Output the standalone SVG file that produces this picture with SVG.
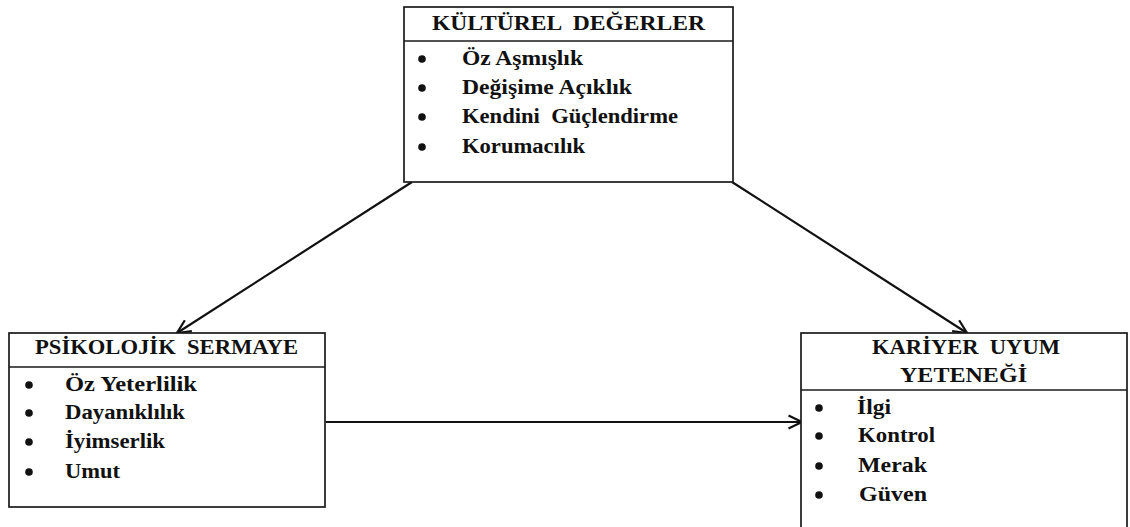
<svg xmlns="http://www.w3.org/2000/svg" width="1130" height="527" viewBox="0 0 1130 527">
  <style>
    .box { fill: #ffffff; stroke: #1a1a1a; stroke-width: 1.7; }
    .div { stroke: #1a1a1a; stroke-width: 1.5; }
    .title { font-family: "Liberation Serif", "Times New Roman", serif; font-weight: bold; font-size: 21px; fill: #111111; }
    .item { font-family: "Liberation Serif", "Times New Roman", serif; font-weight: bold; font-size: 20px; fill: #111111; }
    .dot { fill: #111111; }
    .conn { stroke: #111111; stroke-width: 2.2; fill: none; marker-end: url(#arrow); }
  </style>
  <defs>
    <marker id="arrow" viewBox="0 0 16 16" refX="14.5" refY="8" markerWidth="16" markerHeight="16" markerUnits="userSpaceOnUse" orient="auto">
      <path d="M1,1.5 L14.5,8 L1,14.5" fill="none" stroke="#111111" stroke-width="2.2"/>
    </marker>
  </defs>

  <!-- Connectors -->
  <g id="connectors">
    <line class="conn" x1="412" y1="182" x2="177" y2="333"/>
    <line class="conn" x1="732" y1="182" x2="967" y2="333"/>
    <line class="conn" x1="326" y1="422" x2="802" y2="422"/>
  </g>

  <!-- Cultural values -->
  <g id="kulturel-degerler">
    <rect class="box" x="404" y="7" width="329" height="175"/>
    <line class="div" x1="404" y1="41" x2="733" y2="41"/>
    <text class="title" x="432" y="30" textLength="273" lengthAdjust="spacingAndGlyphs" xml:space="preserve">KÜLTÜREL  DEĞERLER</text>
    <circle class="dot" cx="422" cy="59" r="3.8"/>
    <circle class="dot" cx="422" cy="88" r="3.8"/>
    <circle class="dot" cx="422" cy="117" r="3.8"/>
    <circle class="dot" cx="422" cy="147" r="3.8"/>
    <text class="item" x="462" y="65" textLength="121" lengthAdjust="spacingAndGlyphs">Öz Aşmışlık</text>
    <text class="item" x="462" y="94" textLength="170" lengthAdjust="spacingAndGlyphs">Değişime Açıklık</text>
    <text class="item" x="462" y="123" textLength="216" lengthAdjust="spacingAndGlyphs" xml:space="preserve">Kendini  Güçlendirme</text>
    <text class="item" x="462" y="153" textLength="123" lengthAdjust="spacingAndGlyphs">Korumacılık</text>
  </g>

  <!-- Psychological capital -->
  <g id="psikolojik-sermaye">
    <rect class="box" x="9" y="333" width="316" height="174"/>
    <line class="div" x1="9" y1="367" x2="325" y2="367"/>
    <text class="title" x="35" y="354" textLength="263" lengthAdjust="spacingAndGlyphs" xml:space="preserve">PSİKOLOJİK  SERMAYE</text>
    <circle class="dot" cx="29" cy="385" r="3.8"/>
    <circle class="dot" cx="29" cy="413" r="3.8"/>
    <circle class="dot" cx="29" cy="442" r="3.8"/>
    <circle class="dot" cx="29" cy="472" r="3.8"/>
    <text class="item" x="65" y="391" textLength="132" lengthAdjust="spacingAndGlyphs">Öz Yeterlilik</text>
    <text class="item" x="65" y="419" textLength="120" lengthAdjust="spacingAndGlyphs">Dayanıklılık</text>
    <text class="item" x="65" y="448" textLength="100" lengthAdjust="spacingAndGlyphs">İyimserlik</text>
    <text class="item" x="65" y="478" textLength="55" lengthAdjust="spacingAndGlyphs">Umut</text>
  </g>

  <!-- Career adaptability -->
  <g id="kariyer-uyum-yetenegi">
    <rect class="box" x="801" y="333" width="326" height="210"/>
    <line class="div" x1="801" y1="390" x2="1127" y2="390"/>
    <text class="title" x="872" y="354" textLength="188" lengthAdjust="spacingAndGlyphs" xml:space="preserve">KARİYER  UYUM</text>
    <text class="title" x="900" y="382" textLength="127" lengthAdjust="spacingAndGlyphs">YETENEĞİ</text>
    <circle class="dot" cx="819" cy="408" r="3.8"/>
    <circle class="dot" cx="819" cy="436" r="3.8"/>
    <circle class="dot" cx="819" cy="466" r="3.8"/>
    <circle class="dot" cx="819" cy="495" r="3.8"/>
    <text class="item" x="857" y="414" textLength="34" lengthAdjust="spacingAndGlyphs">İlgi</text>
    <text class="item" x="858" y="442" textLength="77" lengthAdjust="spacingAndGlyphs">Kontrol</text>
    <text class="item" x="858" y="472" textLength="69" lengthAdjust="spacingAndGlyphs">Merak</text>
    <text class="item" x="859" y="501" textLength="68" lengthAdjust="spacingAndGlyphs">Güven</text>
  </g>
</svg>
